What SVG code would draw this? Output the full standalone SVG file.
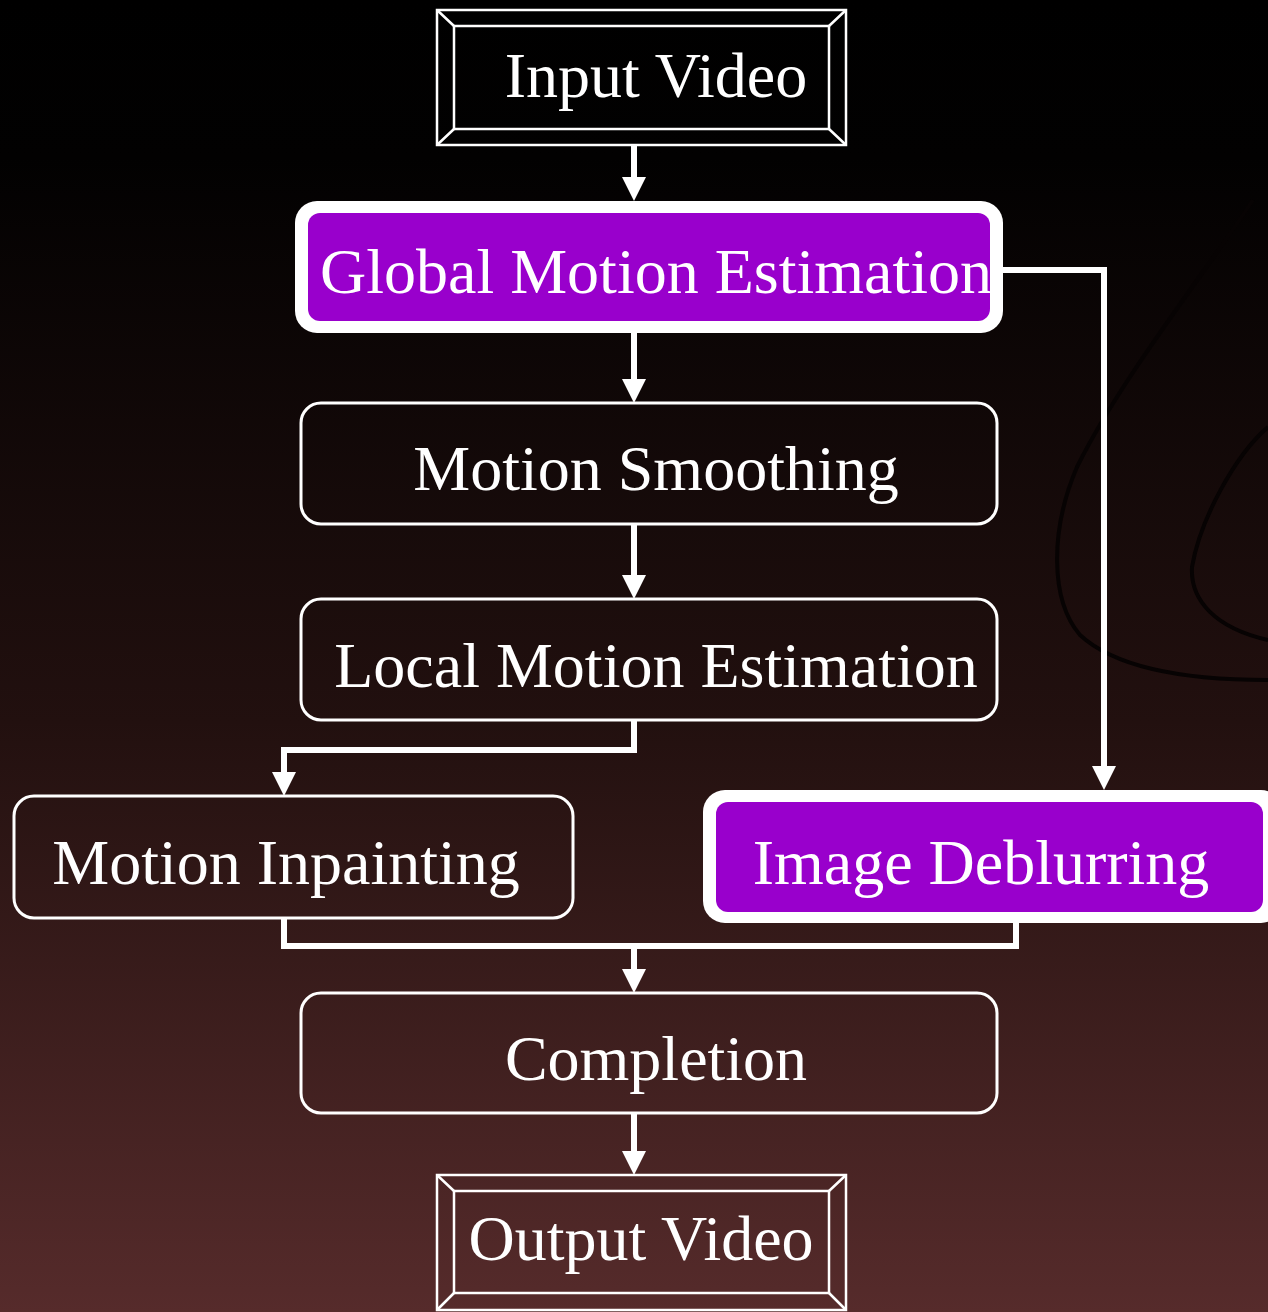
<svg xmlns="http://www.w3.org/2000/svg" width="1268" height="1312" viewBox="0 0 1268 1312">
<defs>
<linearGradient id="bg" x1="0" y1="0" x2="0" y2="1">
<stop offset="0" stop-color="#000000"/>
<stop offset="0.12" stop-color="#020101"/>
<stop offset="0.55" stop-color="#22100f"/>
<stop offset="1" stop-color="#562b2b"/>
</linearGradient>
<marker id="ah" markerWidth="4" markerHeight="4" refX="1" refY="2" orient="auto" markerUnits="strokeWidth" viewBox="0 0 4 4">
<path d="M0,0 L4,2 L0,4 Z" fill="#ffffff"/>
</marker>
<style>
.lbl{font-family:"Liberation Serif","Times New Roman",serif;font-size:64px;fill:#ffffff;text-anchor:middle}
.box{fill:none;stroke:#ffffff;stroke-width:3}
.hl{fill:#ffffff}
.pur{fill:#9900cc}
.bev{fill:none;stroke:#ffffff;stroke-width:2.5}
.con{fill:none;stroke:#ffffff;stroke-width:6}
.deco{fill:none;stroke:#070303;stroke-width:4}
</style>
</defs>
<rect x="0" y="0" width="1268" height="1312" fill="url(#bg)"/>
<g id="background-curves">
<path class="deco" d="M1253,200 C1200,280 1120,380 1077,467 C1050,530 1050,600 1080,635 C1120,672 1200,680 1268,680"/>
<path class="deco" d="M1268,427 C1235,455 1200,520 1192,567 C1190,600 1215,628 1268,640"/>
</g>
<g id="connectors">
<path class="con" d="M634,145 L634,183" marker-end="url(#ah)"/>
<path class="con" d="M634,333 L634,385" marker-end="url(#ah)"/>
<path class="con" d="M634,524 L634,581" marker-end="url(#ah)"/>
<path class="con" d="M634,720 L634,750 L284,750 L284,778" marker-end="url(#ah)"/>
<path class="con" d="M1002,270 L1104,270 L1104,772" marker-end="url(#ah)"/>
<path class="con" d="M284,918 L284,946 L1016,946 L1016,922"/>
<path class="con" d="M634,946 L634,975" marker-end="url(#ah)"/>
<path class="con" d="M634,1113 L634,1157" marker-end="url(#ah)"/>
</g>
<g id="input-video">
<rect class="bev" x="437" y="10" width="409" height="135"/>
<rect class="bev" x="454" y="26" width="375" height="103"/>
<path class="bev" d="M437,10 L454,26 M846,10 L829,26 M437,145 L454,129 M846,145 L829,129"/>
<text class="lbl" x="656" y="97">Input Video</text>
</g>
<g id="global-motion-estimation">
<rect class="hl" x="295" y="201" width="708" height="132" rx="22"/>
<rect class="pur" x="308" y="213" width="682" height="108" rx="12"/>
<text class="lbl" x="656" y="293">Global Motion Estimation</text>
</g>
<g id="motion-smoothing">
<rect class="box" x="301" y="403" width="696" height="121" rx="20"/>
<text class="lbl" x="656" y="490">Motion Smoothing</text>
</g>
<g id="local-motion-estimation">
<rect class="box" x="301" y="599" width="696" height="121" rx="20"/>
<text class="lbl" x="656" y="687">Local Motion Estimation</text>
</g>
<g id="motion-inpainting">
<rect class="box" x="14" y="796" width="559" height="122" rx="20"/>
<text class="lbl" x="286" y="884">Motion Inpainting</text>
</g>
<g id="image-deblurring">
<rect class="hl" x="703" y="790" width="580" height="133" rx="22"/>
<rect class="pur" x="716" y="802" width="547" height="110" rx="12"/>
<text class="lbl" x="981" y="884">Image Deblurring</text>
</g>
<g id="completion">
<rect class="box" x="301" y="993" width="696" height="120" rx="20"/>
<text class="lbl" x="656" y="1080">Completion</text>
</g>
<g id="output-video">
<rect class="bev" x="437" y="1175" width="409" height="135"/>
<rect class="bev" x="454" y="1191" width="375" height="102"/>
<path class="bev" d="M437,1175 L454,1191 M846,1175 L829,1191 M437,1310 L454,1293 M846,1310 L829,1293"/>
<text class="lbl" x="641" y="1260">Output Video</text>
</g>
</svg>
